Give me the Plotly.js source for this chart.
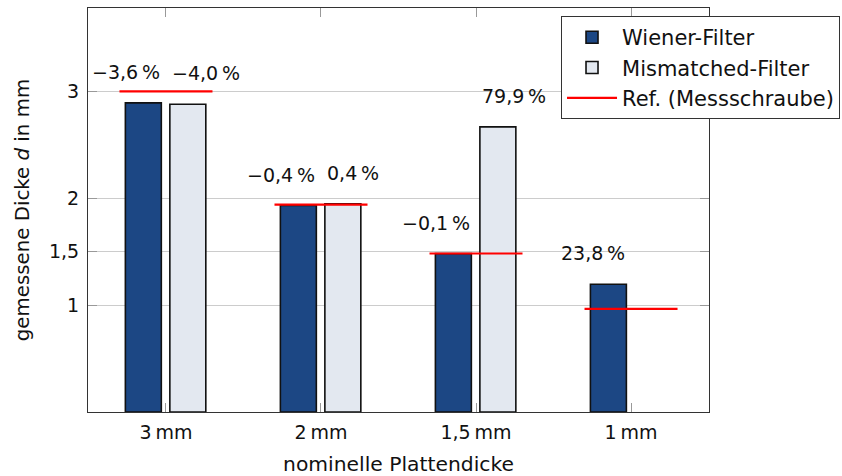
<!DOCTYPE html>
<html>
<head>
<meta charset="utf-8">
<script src="https://cdn.plot.ly/plotly-3.0.1.min.js"></script>
<style>html,body{margin:0;padding:0;background:#fff;}#chart{width:842px;height:476px;}</style>
</head>
<body>
<div id="chart"></div>
<script>
// ---- data ----
const categories = ['3\u2009mm', '2\u2009mm', '1,5\u2009mm', '1\u2009mm'];
const wiener = [2.892, 1.932, 1.482, 1.195];
const mismatched = [2.880, 1.948, 2.668, null];
const reference = [3.0, 1.94, 1.483, 0.965];
const wienerLabels = ['\u22123,6\u2009%', '\u22120,4\u2009%', '\u22120,1\u2009%', '23,8\u2009%'];
const mismatchedLabels = ['\u22124,0\u2009%', '0,4\u2009%', '79,9\u2009%', null];
const yTickVals = [1, 1.5, 2, 3];
const yTickText = ['1', '1,5', '2', '3'];
const seriesNames = ['Wiener-Filter', 'Mismatched-Filter', 'Ref. (Messschraube)'];

const FONT = 'DejaVu Sans, sans-serif';
const idx = categories.map((c, i) => i);

// reference segments spanning each category group
const refX = [], refY = [];
idx.forEach(i => { refX.push(i - 0.3, i + 0.3, null); refY.push(reference[i], reference[i], null); });

const traces = [
  {
    type: 'bar', name: seriesNames[0], x: idx, y: wiener, legendgroup: 'g1',
    width: 0.232, offset: -0.262,
    marker: {color: '#1c4784', line: {color: '#111111', width: 1.6}}
  },
  {
    type: 'bar', name: seriesNames[1], x: idx, y: mismatched, legendgroup: 'g2',
    width: 0.232, offset: 0.025,
    marker: {color: '#e3e8f0', line: {color: '#111111', width: 1.6}}
  },
  {
    type: 'scatter', mode: 'lines', name: seriesNames[2], x: refX, y: refY, legendgroup: 'g3',
    line: {color: '#ff0000', width: 2.2}, connectgaps: false
  }
];

const annotations = [];
idx.forEach(i => {
  if (wienerLabels[i] != null) annotations.push({
    x: i, y: wiener[i], xref: 'x', yref: 'y', text: wienerLabels[i], showarrow: false,
    xanchor: 'right', yanchor: 'middle', xshift: -4, yshift: 31,
    font: {family: FONT, size: 19, color: '#111'}
  });
  if (mismatchedLabels[i] != null) annotations.push({
    x: i, y: mismatched[i], xref: 'x', yref: 'y', text: mismatchedLabels[i], showarrow: false,
    xanchor: 'left', yanchor: 'middle', xshift: 4, yshift: 31,
    font: {family: FONT, size: 19, color: '#111'}
  });
});

const layout = {
  width: 842, height: 476,
  margin: {l: 88, r: 133, t: 8, b: 64, autoexpand: false},
  paper_bgcolor: '#ffffff', plot_bgcolor: '#ffffff',
  font: {family: FONT, size: 19, color: '#111'},
  barmode: 'overlay',
  showlegend: true,
  legend: {
    x: 0.7617, y: 0.98, xanchor: 'left', yanchor: 'top',
    bgcolor: '#ffffff', bordercolor: '#333333', borderwidth: 1,
    font: {family: FONT, size: 21, color: '#111'},
    traceorder: 'normal', itemwidth: 50, tracegroupgap: 6
  },
  xaxis: {
    range: [-0.503, 3.503],
    tickmode: 'array', tickvals: idx, ticktext: categories,
    showgrid: false, zeroline: false,
    showline: true, linecolor: '#333333', linewidth: 1, mirror: 'ticks',
    ticks: 'inside', ticklen: 9, tickcolor: '#999999', tickwidth: 1,
    ticklabelstandoff: 3,
    tickfont: {family: FONT, size: 19, color: '#111'},
    title: {text: 'nominelle Plattendicke', font: {family: FONT, size: 20.3, color: '#111'}, standoff: 16},
    fixedrange: true
  },
  yaxis: {
    range: [0, 3.78],
    tickmode: 'array', tickvals: yTickVals, ticktext: yTickText,
    showgrid: true, gridcolor: '#cccccc', gridwidth: 1, zeroline: false,
    showline: true, linecolor: '#333333', linewidth: 1, mirror: 'ticks',
    ticks: 'inside', ticklen: 9, tickcolor: '#999999', tickwidth: 1,
    ticklabelstandoff: 4,
    tickfont: {family: FONT, size: 19, color: '#111'},
    title: {text: 'gemessene Dicke <i>d</i> in mm', font: {family: FONT, size: 19.8, color: '#111'}, standoff: 14},
    fixedrange: true
  },
  annotations: annotations
};

Plotly.newPlot('chart', traces, layout, {displayModeBar: false, staticPlot: true});
</script>
</body>
</html>
